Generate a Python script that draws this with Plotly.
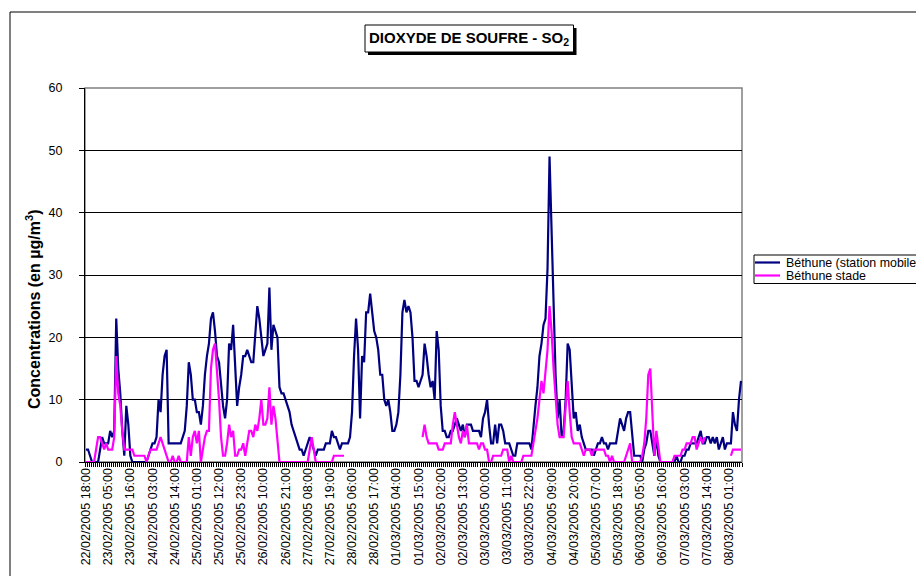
import pandas as pd
import plotly.graph_objects as go

# Hourly SO2 concentrations (µg/m3), first value at 22/02/2005 18:00
first_hour = "2005-02-22 18:00"

mobile = [
    2, 2, 1, 0, 0, 0, 0, 2, 4, 3,
    3, 3, 5, 4, 5, 23, 15, 11, 5, 1,
    9, 6, 1, 0, 0, 0, 0, 0, 0, 0,
    0, 1, 2, 3, 3, 4, 10, 8, 14, 17,
    18, 3, 3, 3, 3, 3, 3, 3, 4, 5,
    9, 16, 14, 10, 10, 8, 8, 6, 9, 14,
    17, 19, 23, 24, 21, 17, 16, 12, 9, 7,
    10, 19, 18, 22, 15, 9, 12, 14, 17, 17,
    18, 17, 16, 16, 21, 25, 23, 20, 17, 18,
    19, 28, 18, 22, 21, 20, 12, 11, 11, 10,
    9, 8, 6, 5, 4, 3, 2, 2, 1, 2,
    3, 4, 3, 2, 1, 2, 2, 2, 2, 3,
    3, 3, 5, 4, 4, 3, 2, 3, 3, 3,
    3, 4, 8, 17, 23, 18, 7, 17, 16, 24,
    24, 27, 24, 21, 20, 18, 14, 14, 10, 9,
    10, 8, 5, 5, 6, 8, 14, 24, 26, 24,
    25, 24, 20, 13, 13, 12, 13, 14, 19, 17,
    14, 12, 13, 10, 21, 18, 9, 5, 5, 4,
    4, 5, 5, 6, 7, 6, 5, 6, 4, 6,
    6, 6, 5, 5, 5, 5, 4, 7, 8, 10,
    6, 3, 3, 6, 3, 6, 6, 5, 3, 3,
    3, 2, 1, 1, 3, 3, 3, 3, 3, 3,
    3, 2, 6, 9, 12, 17, 19, 22, 23, 31,
    49, 37, 24, 14, 7, 10, 4, 5, 10, 19,
    18, 12, 7, 8, 5, 6, 4, 3, 2, 2,
    2, 2, 1, 2, 3, 3, 4, 3, 3, 2,
    3, 3, 3, 3, 5, 7, 6, 5, 7, 8,
    8, 4, 1, 1, 1, 1, 0, 2, 3, 5,
    5, 3, 1, 4, 1, 0, 0, 0, 0, 0,
    0, 0, 0, 1, 0, 0, 1, 1, 2, 2,
    3, 3, 3, 3, 4, 5, 3, 3, 4, 4,
    3, 4, 3, 4, 2, 3, 4, 2, 3, 3,
    3, 8, 6, 5, 10, 13,
]

stade = [
    0, 0, 0, 0, 0, 2, 4, 4, 3, 2,
    3, 2, 2, 2, 4, 17, 11, 9, 5, 2,
    2, 2, 2, 2, 1, 1, 1, 1, 1, 1,
    0, 1, 2, 2, 2, 2, 3, 4, 3, 2,
    1, 0, 0, 1, 0, 0, 1, 0, 0, 0,
    0, 4, 1, 4, 5, 3, 5, 0, 2, 4,
    5, 5, 15, 18, 19, 15, 10, 4, 1, 1,
    3, 6, 4, 5, 1, 1, 2, 2, 3, 1,
    3, 5, 5, 4, 6, 5, 7, 10, 6, 6,
    7, 12, 6, 9, 7, 4, 0, 0, 0, 0,
    0, 0, 0, 0, 0, 0, 0, 0, 0, 0,
    0, 2, 4, 2, 0, 0, 0, 0, 0, 0,
    0, 0, 0, 1, 1, 1, 1, 1, 1, None,
    None, None, None, None, None, None, None, None, None, None,
    None, None, None, None, None, None, None, None, None, None,
    None, None, None, None, None, None, None, None, None, None,
    None, None, None, None, None, None, None, 4, 6, 4,
    3, 3, 3, 3, 3, 2, 2, 2, 3, 3,
    3, 3, 6, 8, 6, 4, 3, 5, 4, 6,
    3, 3, 3, 3, 3, 2, 3, 3, 2, 2,
    0, 0, 1, 1, 1, 1, 1, 2, 2, 2,
    0, 1, 0, 0, 0, 0, 0, 1, 1, 1,
    1, 1, 3, 5, 7, 10, 13, 11, 15, 18,
    25, 21, 15, 10, 6, 4, 4, 4, 9, 13,
    8, 4, 3, 3, 3, 3, 2, 1, 2, 2,
    2, 1, 2, 2, 2, 2, 2, 2, 1, 1,
    0, 1, 0, 0, 0, 0, 0, 0, 1, 2,
    3, 0, 0, 0, 0, 0, 1, 3, 7, 14,
    15, 8, 1, 5, 2, 0, 0, 0, 0, 0,
    0, 0, 1, 1, 1, 1, 2, 2, 3, 3,
    3, 4, 4, 2, 3, 4, 3, 4, None, None,
    None, None, None, None, None, None, None, None, None, None,
    1, 2, 2, 2, 2, 2,
]

tick_labels = [
    "22/02/2005 18:00", "23/02/2005 05:00", "23/02/2005 16:00", "24/02/2005 03:00",
    "24/02/2005 14:00", "25/02/2005 01:00", "25/02/2005 12:00", "25/02/2005 23:00",
    "26/02/2005 10:00", "26/02/2005 21:00", "27/02/2005 08:00", "27/02/2005 19:00",
    "28/02/2005 06:00", "28/02/2005 17:00", "01/03/2005 04:00", "01/03/2005 15:00",
    "02/03/2005 02:00", "02/03/2005 13:00", "03/03/2005 00:00", "03/03/2005 11:00",
    "03/03/2005 22:00", "04/03/2005 09:00", "04/03/2005 20:00", "05/03/2005 07:00",
    "05/03/2005 18:00", "06/03/2005 05:00", "06/03/2005 16:00", "07/03/2005 03:00",
    "07/03/2005 14:00", "08/03/2005 01:00",
]

y_ticks = [0, 10, 20, 30, 40, 50, 60]

series_names = ["Béthune (station mobile)", "Béthune stade"]
series_colors = ["#000080", "#FF00FF"]

hours = pd.date_range(first_hour, periods=len(mobile), freq="h")
tick_pos = pd.to_datetime(tick_labels, format="%d/%m/%Y %H:%M")
half = pd.Timedelta(minutes=30)
fmt = "%Y-%m-%d %H:%M:%S"

FONT = "Arial, Liberation Sans, sans-serif"
W, H = 916, 576
PL, PR, PT, PB = 85, 742, 88, 462


def px(x):
    return (x - PL) / (PR - PL)


def py(y):
    return (PB - y) / (PB - PT)


fig = go.Figure()
for vals, name, col in zip([mobile, stade], series_names, series_colors):
    fig.add_trace(go.Scatter(
        x=hours, y=vals, mode="lines", name=name,
        line=dict(color=col, width=2.2), connectgaps=False,
        showlegend=False,
    ))

shapes = []
annotations = []

# outer chart frame
shapes.append(dict(type="rect", xref="paper", yref="paper",
                   x0=px(10), x1=px(1000), y0=py(12), y1=py(700),
                   line=dict(color="black", width=1), fillcolor="rgba(0,0,0,0)"))
# plot area frame
shapes.append(dict(type="rect", xref="paper", yref="paper", x0=0, x1=1, y0=0, y1=1,
                   line=dict(color="#808080", width=1.5), layer="below"))

# title box with drop shadow
shapes.append(dict(type="rect", xref="paper", yref="paper",
                   x0=px(368), x1=px(576.5), y0=py(28), y1=py(55),
                   line=dict(width=0), fillcolor="black"))
shapes.append(dict(type="rect", xref="paper", yref="paper",
                   x0=px(365), x1=px(573.5), y0=py(25), y1=py(52),
                   line=dict(color="black", width=1), fillcolor="white"))
annotations.append(dict(xref="paper", yref="paper", x=px(469), y=py(38.5),
                        text="<b>DIOXYDE DE SOUFRE - SO<sub>2</sub></b>",
                        showarrow=False, xanchor="center", yanchor="middle",
                        font=dict(family=FONT, size=15, color="black")))

# y axis title
annotations.append(dict(xref="paper", yref="paper", x=px(33), y=py(310),
                        text="<b>Concentrations (en µg/m<sup>3</sup>)</b>",
                        textangle=-90, showarrow=False,
                        xanchor="center", yanchor="middle",
                        font=dict(family=FONT, size=16, color="black")))

# legend
shapes.append(dict(type="rect", xref="paper", yref="paper",
                   x0=px(754), x1=px(1000), y0=py(255), y1=py(283.5),
                   line=dict(color="black", width=1), fillcolor="white"))
for i, (name, col) in enumerate(zip(series_names, series_colors)):
    yy = 262.5 + i * 13
    shapes.append(dict(type="line", xref="paper", yref="paper",
                       x0=px(755), x1=px(780), y0=py(yy), y1=py(yy),
                       line=dict(color=col, width=2.2)))
    annotations.append(dict(xref="paper", yref="paper", x=px(784), y=py(yy),
                            text=name, showarrow=False,
                            xanchor="left", yanchor="middle",
                            font=dict(family=FONT, size=12.4, color="black")))

fig.update_layout(
    width=W, height=H,
    margin=dict(l=PL, r=W - PR, t=PT, b=H - PB, autoexpand=False),
    paper_bgcolor="white", plot_bgcolor="white",
    shapes=shapes, annotations=annotations,
    showlegend=False,
    xaxis=dict(
        type="date",
        range=[(hours[0] - half).strftime(fmt), (hours[-1] + half).strftime(fmt)],
        tickmode="array", tickvals=tick_pos, ticktext=tick_labels,
        tickangle=-90, ticks="", showgrid=False, zeroline=False,
        showline=True, linecolor="black", linewidth=1,
        tickfont=dict(family=FONT, size=12.5, color="black"),
        minor=dict(ticks="outside", ticklen=4, tickwidth=1, tickcolor="black",
                   dtick=3600000, tick0=(hours[0] - half).strftime(fmt),
                   showgrid=False),
    ),
    yaxis=dict(
        range=[0, 60], tickmode="array", tickvals=y_ticks,
        ticks="outside", ticklen=5, tickcolor="black",
        showgrid=True, gridcolor="black", gridwidth=1, zeroline=False,
        showline=True, linecolor="black", linewidth=1,
        ticklabelstandoff=14,
        tickfont=dict(family=FONT, size=12.5, color="black"),
    ),
)

fig.write_html("out.html")
